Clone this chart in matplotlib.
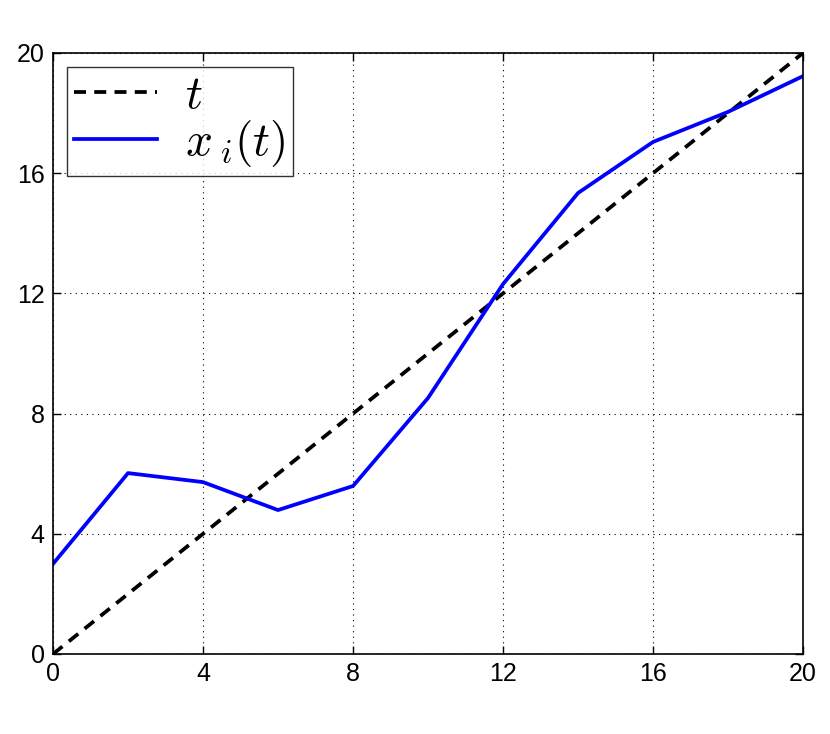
import matplotlib
matplotlib.use("Agg")
import matplotlib.pyplot as plt

# data
t = [0, 2, 4, 6, 8, 10, 12, 14, 16, 18, 20]
x_i = [3.0, 6.02, 5.72, 4.79, 5.59, 8.52, 12.31, 15.34, 17.04, 18.04, 19.23]
ticks = [0, 4, 8, 12, 16, 20]

plt.rcParams['font.family'] = ['Liberation Sans', 'DejaVu Sans']
plt.rcParams['mathtext.fontset'] = 'cm'

fig = plt.figure(figsize=(8.3, 7.34), dpi=100)
ax = fig.add_axes([0.0639, 0.109, 0.9036, 0.8188])

ax.plot(t, t, color='black', linestyle=(0, (3.2, 2.2)), linewidth=2.7, label=r'$t$')
ax.plot(t, x_i, color='#0000ff', linewidth=2.7, label=r'$x_{\;i}(t)$')

ax.set_xlim(0, 20)
ax.set_ylim(0, 20)
ax.set_xticks(ticks)
ax.set_yticks(ticks)
ax.tick_params(direction='in', top=True, right=True, length=6, width=1,
               labelsize=18, pad=6)
ax.grid(True, color='black', linestyle=(0, (1, 4)), linewidth=0.8)
for s in ax.spines.values():
    s.set_linewidth(1.2)

leg = ax.legend(loc='upper left', fontsize=34, frameon=True, fancybox=False,
                borderaxespad=0.3, handlelength=1.75, labelspacing=0.0,
                borderpad=0.15, handletextpad=0.6)
leg.get_frame().set_edgecolor('black')
leg.get_frame().set_linewidth(1.0)

plt.savefig("out.png", dpi=100)
